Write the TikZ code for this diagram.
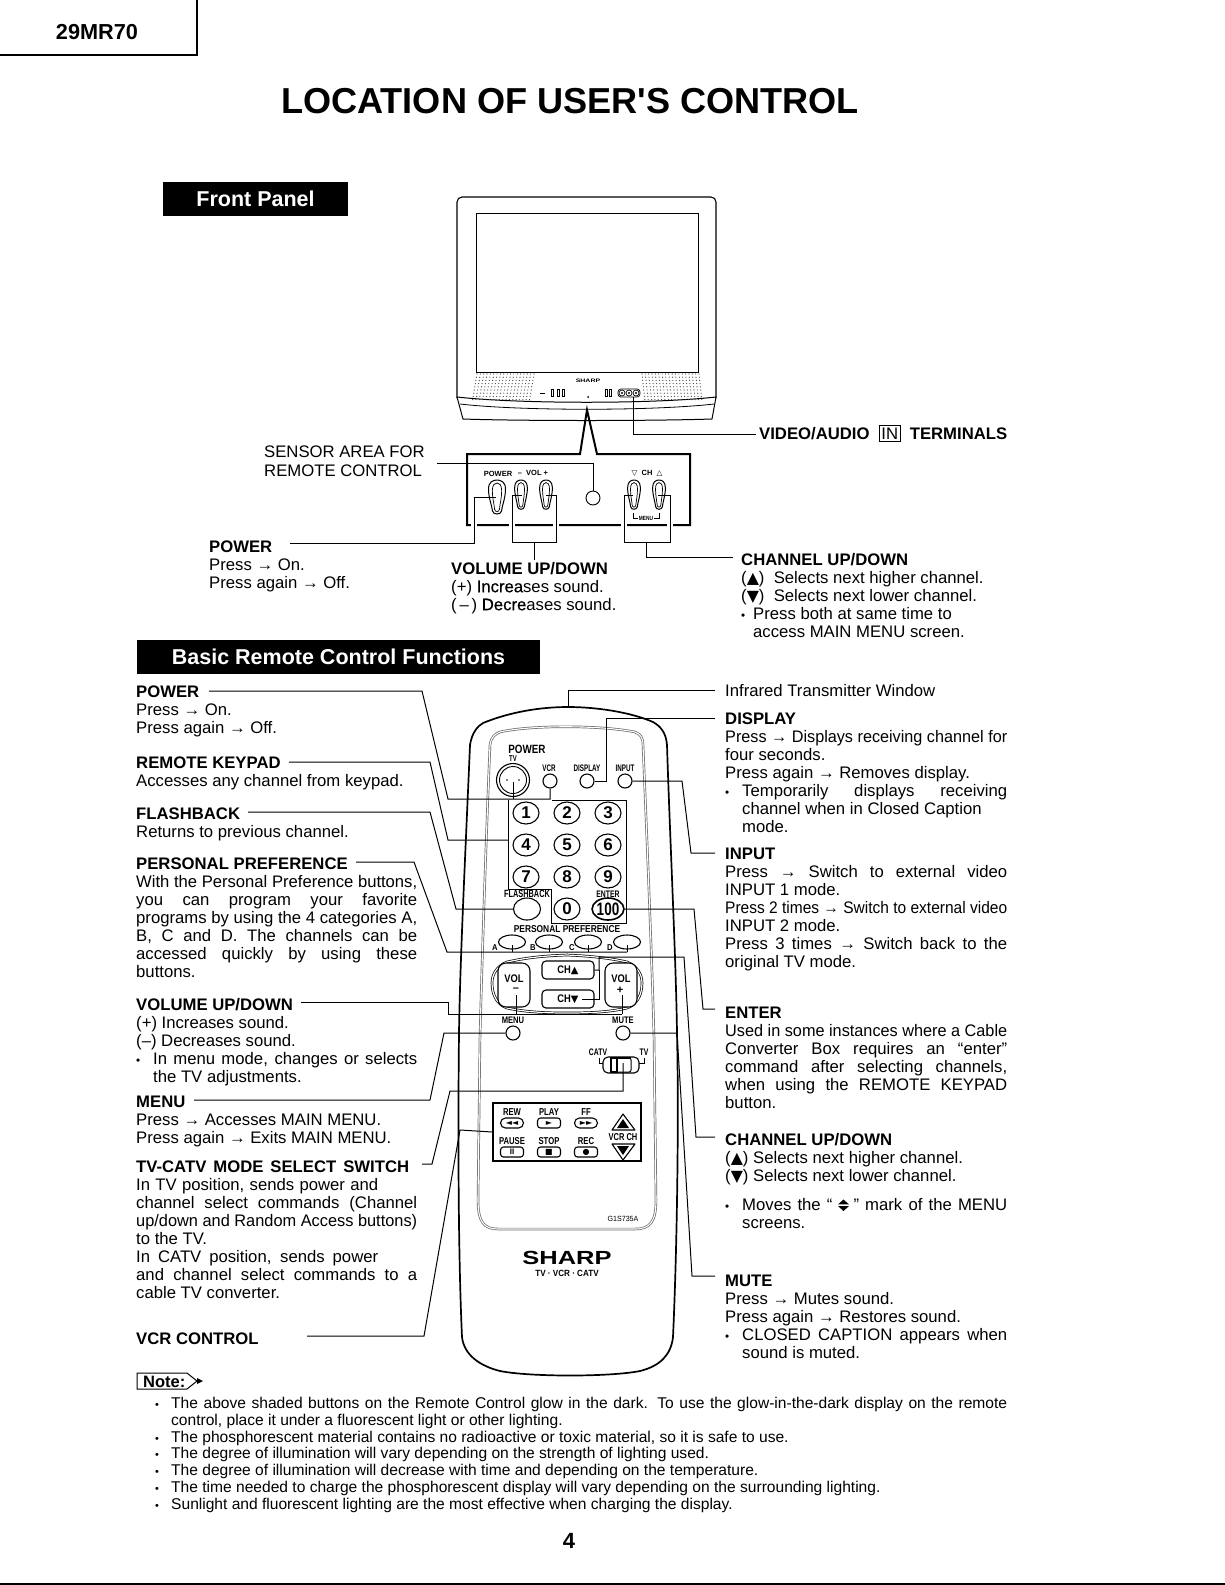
\documentclass[tikz,border=0pt]{standalone}
\usepackage{fontspec}
\usepackage{graphicx}
\usetikzlibrary{shapes.geometric,calc}
\setmainfont{Liberation Sans}
\newfontfamily\dejavu{DejaVu Sans}
\newfontfamily\fakeb[FakeBold=0.5]{Liberation Sans}
\newcommand\fs[1]{\fontsize{#1}{#1}\selectfont}
\newcommand\JJ[2]{\setbox0=\hbox{#2}\ifdim\wd0>#1\relax\resizebox{#1}{\height}{#2}\else\makebox[#1][s]{#2}\fi}
\newcommand\JL[1]{\JJ{281pt}{#1}}
\newcommand\JR[1]{\JJ{282pt}{#1}}
\newcommand\Bul{\makebox[17pt][l]{\scalebox{.7}{•}}}
\newcommand\Ind{\hspace*{17pt}}
\newcommand\Arr{→}
\newcommand\UpT{{\dejavu\scalebox{.95}{▲}}}
\newcommand\DnT{{\dejavu\scalebox{.95}{▼}}}
\newcommand\Blk[4]{\node[txt] (#1) at (#2,#3-13) {\rule{0pt}{13pt}#4};}
\newcommand\RL[6]{\node[rl,font=\bfseries\fs{#4}] (#1) at (#2,#3) {\scalebox{#5}[1]{#6}};}
\tikzset{
 txt/.style={anchor=north west,inner sep=0pt,align=left,font=\fontsize{16.7}{18}\selectfont},
 rl/.style={inner sep=0pt,anchor=center},
 leader/.style={draw=black,line width=1pt,line join=miter},
 oval/.style={draw=black,ellipse,line width=1.1pt,inner sep=0pt,fill=white},
 key/.style={oval,minimum width=26pt,minimum height=22pt,font=\bfseries\fs{17}},
 ppk/.style={oval,minimum width=27pt,minimum height=14pt},
 rnd/.style={oval,circle,minimum size=14pt},
 tape/.style={draw=black,line width=1.1pt,rounded corners=3pt,minimum width=23pt,minimum height=10pt,inner sep=0pt,font=\fs{8}},
 dropb/.pic={
  \draw[line width=1pt] (-8.5,9) .. controls (-8.5,2) and (-4,0) .. (0,0) .. controls (4,0) and (8.5,2) .. (8.5,9) .. controls (8.5,18) and (5,26) .. (4.5,31) .. controls (4,35) and (-4,35) .. (-4.5,31) .. controls (-5,26) and (-8.5,18) .. (-8.5,9) -- cycle;
  \begin{scope}[shift={(0,3)},xscale=.55,yscale=.84]
  \draw[line width=.7pt] (-8.5,9) .. controls (-8.5,2) and (-4,0) .. (0,0) .. controls (4,0) and (8.5,2) .. (8.5,9) .. controls (8.5,18) and (5,26) .. (4.5,31) .. controls (4,35) and (-4,35) .. (-4.5,31) .. controls (-5,26) and (-8.5,18) .. (-8.5,9) -- cycle;
  \end{scope}
 },
}
\begin{document}
\begin{tikzpicture}[x=1pt,y=-1pt]
\useasboundingbox (0,0) rectangle (1225,1585);
\fill[white] (0,0) rectangle (1225,1585);

% header
\coordinate (hA) at (197,0); \coordinate (hB) at (197,55); \coordinate (hC) at (0,55);
\draw[line width=1.1pt] (hA) -- (hB) -- (hC);
\node[inner sep=0pt,font=\bfseries\fs{21.7}] (model) at (97,32) {29MR70};
\node[inner sep=0pt,font=\bfseries\fs{36.1}] (title) at (570,101) {LOCATION OF USER\textquotesingle S CONTROL};
\node[fill=black,text=white,minimum width=185pt,minimum height=34pt,inner sep=0pt,font=\bfseries\fs{21.5}] (fph) at (255.5,199) {Front Panel};
\node[fill=black,text=white,minimum width=403pt,minimum height=34pt,inner sep=0pt,font=\bfseries\fs{21.5}] (brh) at (338.5,657) {Basic Remote Control Functions};

% TV
\draw[line width=1.1pt,rounded corners=5pt] (457,398) -- (457,197) -- (716,197) -- (716,398);
\draw[line width=.9pt] (476,213) rectangle (698,372);
\draw[line width=1pt] (457,397) .. controls (520,404) and (653,404) .. (716,397);
\draw[line width=.8pt] (460,404) .. controls (520,411) and (653,411) .. (714,404);
\draw[line width=1pt] (457,397) -- (463,419) .. controls (520,421) and (653,421) .. (712,419) -- (716,397);
\foreach \r in {0,...,8}{
 \foreach \c in {0,...,17}{
  \fill[black!75] ({477-\r*0.55+\c*3.35},{374+\r*3.2}) circle (.6);
  \fill[black!75] ({642+\r*0.55+\c*3.35-\r*0.2},{374+\r*3.2}) circle (.6);
 }}
\node[inner sep=0pt,font=\bfseries\fs{5}] (tvbrand) at (588,381) {\scalebox{1.4}[1]{SHARP}};
\draw[line width=.8pt] (540,393) -- (545,393);
\draw[line width=.7pt] (551,389) rectangle (553,396);
\draw[line width=.7pt] (557,389) rectangle (559,396) (562,389) rectangle (564,396) (605,389) rectangle (607,396) (609,389) rectangle (611,396);
\fill (588,397) circle (1);
\draw[line width=.7pt,rounded corners=3pt] (618,389) rectangle (640,397);
\foreach \x in {622,629,636}{\draw[line width=.7pt] (\x,393) circle (3);\fill (\x,393) circle (1.2);}
% jack leader
\coordinate (jack) at (633,397); \coordinate (vidend) at (756,434);
\draw[leader] (jack) -- (633,434) -- (vidend);
\node[anchor=base west,inner sep=0pt,font=\bfseries\fs{16.7}] (vidtxt) at (759,439) {\makebox[248pt][s]{VIDEO/AUDIO {\setlength\fboxsep{2pt}\setlength\fboxrule{.7pt}\fbox{\mdseries IN}} TERMINALS}};

% panel
\coordinate (apex) at (587,410);
\draw[line width=2pt,line join=miter] (467,525) -- (467,454) -- (580,454) -- (apex) -- (597,454) -- (690,454) -- (690,525) -- cycle;
\foreach \x in {474,512,556,624,670}{\fill[white] ({\x-3},522) rectangle ({\x+3},528);}
\RL{ppow}{498}{474}{7.5}{1}{POWER}
\RL{pvol}{533}{473}{7.5}{1}{–\ \ VOL\ +}
\RL{pch}{647}{473}{7.5}{1}{{\dejavu▽}\ \ CH\ \ {\dejavu△}}
\pic at (497,480) {dropb};
\pic[xscale=.75,yscale=.86] at (521,480) {dropb};
\pic[xscale=.75,yscale=.86] at (546,480) {dropb};
\pic[xscale=.75,yscale=.86] at (634,480) {dropb};
\pic[xscale=.75,yscale=.86] at (659,480) {dropb};
\node[oval,circle,minimum size=14pt,line width=.9pt] (sens) at (593,498) {};
\node[inner sep=1pt,fill=white,font=\bfseries\fs{6}] (pmenu) at (646,518) {\scalebox{.8}[1]{MENU}};
\coordinate (mL) at (633,513); \coordinate (mR) at (659,513);
\draw[line width=1pt] (mL) -- (633,518) -- (pmenu.west) (pmenu.east) -- (659,518) -- (mR);

\Blk{sens1}{264}{457}{SENSOR AREA FOR}
\Blk{sens2}{264}{476}{REMOTE CONTROL}
\coordinate (sensL) at (437,463);
\draw[leader] (sensL) -- (593,463) -- (sens.north);
\coordinate (fpow) at (290,543); \coordinate (fpowb) at (496,497);
\draw[leader] (fpow) -- (474,543) -- (474,497) -- (fpowb);
\coordinate (vl) at (522,495); \coordinate (vr) at (546,495); \coordinate (vs) at (534,560);
\draw[leader] (vl) -- (512,495) -- (512,542) -- (556,542) -- (556,495) -- (vr);
\draw[leader] (534,542) -- (vs);
\coordinate (cl) at (633,495); \coordinate (cr) at (658,495); \coordinate (cs) at (733,557);
\draw[leader] (cl) -- (624,495) -- (624,542) -- (670,542) -- (670,495) -- (cr);
\draw[leader] (646,542) -- (646,557) -- (cs);

\Blk{fpowt}{209}{552}{\textbf{POWER}\\Press \Arr{} On.\\Press again \Arr{} Off.}
\Blk{fvolt}{451}{574}{\textbf{VOLUME UP/DOWN}\\(+) {\fakeb Increa}ses sound.\\(\,–\,) {\fakeb Decre}ases sound.}
\Blk{fcht}{741}{565}{\textbf{CHANNEL UP/DOWN}\\(\UpT)\ \ Selects next higher channel.\\(\DnT)\ \ Selects next lower channel.\\\makebox[12pt][l]{\scalebox{.7}{•}}Press both at same time to\\\hspace*{12pt}access MAIN MENU screen.}

% remote
\draw[line width=1.7pt] (470,745) .. controls (472,732) and (478,726) .. (483,723) .. controls (510,712) and (540,707) .. (568,707) .. controls (596,707) and (630,712) .. (653,722) .. controls (660,726) and (666,732) .. (667,745) .. controls (670,840) and (676,960) .. (677,1033) .. controls (679,1120) and (677,1250) .. (673,1337) .. controls (671,1355) and (660,1366) .. (640,1371) .. controls (610,1377) and (530,1377) .. (500,1371) .. controls (480,1366) and (464,1355) .. (462,1337) .. controls (458,1250) and (458,1120) .. (459,1033) .. controls (460,960) and (466,840) .. (470,745) -- cycle;
\draw[draw=black!60,line width=.7pt,double=white,double distance=1.1pt] (490,745) .. controls (491,737) and (495,734) .. (500,732) .. controls (530,725) and (600,725) .. (635,732) .. controls (640,734) and (643,737) .. (643,745) .. controls (647,840) and (652,960) .. (654,1037) -- (656,1200) .. controls (656,1222) and (650,1229) .. (635,1229) -- (498,1229) .. controls (484,1229) and (478,1222) .. (478,1200) -- (480,1037) .. controls (482,960) and (486,840) .. (490,745) -- cycle;

\RL{rpow}{527}{749}{12}{.82}{POWER}
\RL{rtv}{513}{759}{8.5}{.7}{TV}
\node[draw,circle,line width=1.1pt,minimum size=33pt,inner sep=0pt] (tvo) at (513,780) {};
\node[draw,circle,line width=.9pt,minimum size=27pt,inner sep=0pt] (tvi) at (513,780) {};
\fill (507,780) circle (.9) (519,780) circle (.9);
\RL{rvcr}{549}{768}{9.5}{.66}{VCR}
\RL{rdisp}{587}{768}{9.5}{.66}{DISPLAY}
\RL{rinp}{625}{768}{9.5}{.66}{INPUT}
\node[rnd] (vcrb) at (550,781) {};
\node[rnd] (dispb) at (587,781) {};
\node[rnd] (inpb) at (625,781) {};
\foreach \n/\t/\x/\y in {k1/1/526/813,k2/2/567/813,k3/3/608/813,k4/4/526/845,k5/5/567/845,k6/6/608/845,k7/7/526/877,k8/8/567/877,k9/9/608/877,k0/0/567/909}{
 \node[key] (\n) at (\x,\y) {\t};
}
\node[key,line width=1.6pt,font=\bfseries\fs{18}] (k100) at (608,909) {\scalebox{.75}[1]{100}};
\node[oval,minimum width=27pt,minimum height=22pt] (fb) at (527,909) {};
\RL{lfb}{527}{894}{10.5}{.7}{FLASHBACK}
\RL{lent}{608}{894}{9.5}{.72}{ENTER}
\RL{lpp}{567}{929}{10}{.84}{PERSONAL PREFERENCE}
\foreach \n/\x in {ppa/512,ppb/549,ppc/588,ppd/627}{\node[ppk] (\n) at (\x,942) {};}
\foreach \n/\t/\x in {la/A/495,lb/B/533,lc/C/572,ld/D/610}{\RL{\n}{\x}{948}{8.5}{.9}{\t}}

% keypad bracket and leaders
\coordinate (lpw) at (209,691);
\draw[leader] (lpw) -- (422,691) -- (448,799) -- (550,799) -- (vcrb.south);
\draw[leader] (513,799) -- (513,782);
\coordinate (lkp) at (289,762); \coordinate (kpt) at (552,800);
\draw[leader] (lkp) -- (430,762) -- (448,840) -- (508,840);
\draw[leader] (508,800) -- (508,889) -- (551,889) -- (551,923) -- (626,923) -- (626,800) -- (kpt);
\coordinate (lfbk) at (248,812);
\draw[leader] (lfbk) -- (430,812) -- (456,909) -- (fb.west);
\coordinate (lppf) at (356,862);
\draw[leader] (lppf) -- (414,862) -- (447,952) -- (627,952);
\foreach \x in {512,549,588,627}{\draw[leader] (\x,952) -- (\x,945);}

% VOL group
\draw[line width=.7pt,double=white,double distance=1.2pt,draw=black] (567,955) .. controls (540,956) and (525,958) .. (507,962) .. controls (497,966) and (492,974) .. (492,983) .. controls (492,996) and (498,1005) .. (507,1008) .. controls (525,1012) and (545,1013) .. (567,1013) .. controls (590,1013) and (610,1012) .. (627,1008) .. controls (636,1005) and (642,996) .. (642,983) .. controls (642,974) and (637,966) .. (627,962) .. controls (610,958) and (590,956) .. (567,955) -- cycle;
\node[draw,fill=white,line width=1.1pt,rounded corners=8pt,minimum width=32pt,minimum height=44pt,inner sep=0pt] (volm) at (514,985) {};
\node[draw,fill=white,line width=1.1pt,rounded corners=8pt,minimum width=32pt,minimum height=44pt,inner sep=0pt] (volp) at (621,985) {};
\RL{lvm}{514}{979}{11}{.85}{VOL}
\RL{lvp}{621}{979}{11}{.85}{VOL}
\RL{lvm2}{516}{990}{11}{1}{–}
\RL{lvp2}{620}{990}{11}{1}{+}
\node[draw,fill=white,line width=1.1pt,rounded corners=4pt,minimum width=52pt,minimum height=18pt,inner sep=0pt,font=\bfseries\fs{11}] (chu) at (568,970) {\scalebox{.85}[1]{CH}{\dejavu\scalebox{.9}{▲}}};
\node[draw,fill=white,line width=1.1pt,rounded corners=4pt,minimum width=52pt,minimum height=18pt,inner sep=0pt,font=\bfseries\fs{11}] (chd) at (568,999) {\scalebox{.85}[1]{CH}{\dejavu\scalebox{.9}{▼}}};
\coordinate (chds) at (582,999);
\coordinate (lvol) at (301,1002);
\draw[leader] (lvol) -- (448,1002) -- (448,1014) -- (622,1014);
\draw[leader] (516,1014) -- (516,995);
\draw[leader] (622,1014) -- (622,995);
\RL{lmen}{513}{1020}{9.5}{.8}{MENU}
\RL{lmut}{623}{1020}{9.5}{.8}{MUTE}
\node[rnd] (menb) at (513,1033) {};
\node[rnd] (mutb) at (623,1033) {};
\coordinate (lmn) at (194,1100);
\draw[leader] (lmn) -- (430,1100) -- (444,1033) -- (menb.west);

% switch
\RL{lcatv}{598}{1052}{9.5}{.72}{CATV}
\RL{ltv}{644}{1052}{9.5}{.72}{TV}
\draw[line width=1pt] (599,1058) -- (599,1063) -- (603,1063) (644,1058) -- (644,1063) -- (639,1063);
\node[draw,line width=1.1pt,rounded corners=5pt,minimum width=36pt,minimum height=16pt,inner sep=0pt] (swo) at (621,1065) {};
\node[draw,line width=1pt,rounded corners=2pt,minimum width=20pt,minimum height=14pt,inner sep=0pt] (swi) at (621,1065) {};
\draw[line width=1.6pt] (611,1058) rectangle (617,1072);
\draw[line width=1.8pt] (611,1058) -- (631,1058);
\coordinate (ltv1) at (422,1164); \coordinate (swb) at (623,1063);
\draw[leader] (ltv1) -- (432,1164) -- (450,1091) -- (623,1091) -- (swb);
% VCR
\node[draw,line width=1.1pt,minimum width=148pt,minimum height=58pt,inner sep=0pt] (vcrbox) at (567,1132) {};
\RL{lrew}{512}{1112}{10}{.77}{REW}
\RL{lply}{549}{1112}{10}{.77}{PLAY}
\RL{lff}{586}{1112}{10}{.77}{FF}
\RL{lpse}{512}{1141}{10}{.77}{PAUSE}
\RL{lstp}{549}{1141}{10}{.77}{STOP}
\RL{lrec}{586}{1141}{10}{.77}{REC}
\node[tape,rounded corners=5pt] (brew) at (512,1123) {\dejavu◄◄};
\node[tape] (bply) at (549,1123) {\dejavu►};
\node[tape,rounded corners=5pt] (bff) at (586,1123) {\dejavu►►};
\node[tape] (bpse) at (512,1152) {\textbf{II}};
\node[tape] (bstp) at (549,1152) {\dejavu■};
\node[tape] (brec) at (586,1152) {\dejavu●};
\draw[line width=1.1pt,line join=round] (623,1114) -- (612,1130) -- (635,1130) -- cycle;
\fill (623,1119) -- (617,1128) -- (629,1128) -- cycle;
\draw[line width=1.1pt,line join=round] (623,1160) -- (612,1144) -- (635,1144) -- cycle;
\fill (623,1155) -- (617,1146) -- (629,1146) -- cycle;
\RL{lvch}{623}{1137}{10}{.75}{VCR CH}
\coordinate (lvr) at (307,1336);
\draw[leader] (lvr) -- (424,1336) -- (460,1130) -- (vcrbox.west);
\RL{lg}{623}{1219}{7.5}{.95}{\mdseries G1S735A}
\node[inner sep=0pt,font=\bfseries\fs{19}] (brand) at (567,1258) {\scalebox{1.34}[1]{SHARP}};
\RL{ltvv}{567}{1273}{9}{.9}{TV · VCR · CATV}

% right leaders
\coordinate (rinf) at (715,690); \coordinate (rmt) at (568,707);
\draw[leader] (rinf) -- (568,690) -- (rmt);
\coordinate (rdis) at (715,718);
\draw[leader] (rdis) -- (606,718) -- (606,781) -- (dispb.east);
\coordinate (rinp2) at (715,853);
\draw[leader] (inpb.east) -- (682,781) -- (691,853) -- (rinp2);
\coordinate (rent) at (715,1009);
\draw[leader] (k100.east) -- (694,909) -- (703,1009) -- (rent);
\coordinate (rch) at (715,1137);
\draw[leader] (chu.east) -- (599,970) -- (599,957) -- (684,957) -- (696,1137) -- (rch);
\draw[leader] (chds) -- (599,999) -- (599,970);
\coordinate (rmu) at (715,1276);
\draw[leader] (mutb.east) -- (677,1033) -- (692,1276) -- (rmu);

% left text
\Blk{tpow}{136}{697}{\textbf{POWER}\\Press \Arr{} On.\\Press again \Arr{} Off.}
\Blk{tkey}{136}{768}{\textbf{REMOTE KEYPAD}\\Accesses any channel from keypad.}
\Blk{tfla}{136}{819}{\textbf{FLASHBACK}\\Returns to previous channel.}
\Blk{tper}{136}{869}{\textbf{PERSONAL PREFERENCE}\\\JL{With the Personal Preference buttons,}\\\JL{you can program your favorite}\\\JL{programs by using the 4 categories A,}\\\JL{B, C and D. The channels can be}\\\JL{accessed quickly by using these}\\buttons.}
\Blk{tvol}{136}{1010}{\textbf{VOLUME UP/DOWN}\\(+) Increases sound.\\(–) Decreases sound.\\\JL{\Bul In menu mode, changes or selects}\\\Ind the TV adjustments.}
\Blk{tmen}{136}{1107}{\textbf{MENU}\\Press \Arr{} Accesses MAIN MENU.\\Press again \Arr{} Exits MAIN MENU.}
\Blk{tcat}{136}{1172}{\JJ{273pt}{\textbf{TV-CATV MODE SELECT SWITCH}}\\\JJ{242pt}{In TV position, sends power and}\\\JL{channel select commands (Channel}\\\JL{up/down and Random Access buttons)}\\to the TV.\\\JJ{242pt}{In CATV position, sends power}\\\JL{and channel select commands to a}\\cable TV converter.}
\Blk{tvcr}{136}{1344}{\textbf{VCR CONTROL}}

% right text
\Blk{tinf}{725}{696}{Infrared Transmitter Window}
\Blk{tdis}{725}{724}{\textbf{DISPLAY}\\\JR{Press \Arr{} Displays receiving channel for}\\four seconds.\\Press again \Arr{} Removes display.\\\JR{\Bul Temporarily displays receiving}\\\Ind channel when in Closed Caption\\\Ind mode.}
\Blk{tinp}{725}{859}{\textbf{INPUT}\\\JR{Press \Arr{} Switch to external video}\\INPUT 1 mode.\\\JR{Press 2 times \Arr{} Switch to external video}\\INPUT 2 mode.\\\JR{Press 3 times \Arr{} Switch back to the}\\original TV mode.}
\Blk{tent}{725}{1018}{\textbf{ENTER}\\\JR{Used in some instances where a Cable}\\\JR{Converter Box requires an “enter”}\\\JR{command after selecting channels,}\\\JR{when using the REMOTE KEYPAD}\\button.}
\Blk{tchn}{725}{1145}{\textbf{CHANNEL UP/DOWN}\\(\UpT) Selects next higher channel.\\(\DnT) Selects next lower channel.}
\Blk{tchm}{725}{1210}{\JR{\Bul Moves the “\hspace*{21pt}” mark of the MENU}\\\Ind screens.}
\fill (843.5,1199.5) -- (838,1204.4) -- (849,1204.4) -- cycle;
\fill (843.5,1211) -- (838,1206) -- (849,1206) -- cycle;
\Blk{tmut}{725}{1286}{\textbf{MUTE}\\Press \Arr{} Mutes sound.\\Press again \Arr{} Restores sound.\\\JR{\Bul CLOSED CAPTION appears when}\\\Ind sound is muted.}

% note
\coordinate (nA) at (187,1373); \coordinate (nB) at (187,1389); \coordinate (nC) at (197,1381);
\draw[line width=1pt] (nA) -- (137,1373) -- (137,1389) -- (nB) -- (nC) -- cycle;
\fill (197,1378) -- (203,1381) -- (197,1384) -- cycle;
\node[anchor=base west,inner sep=0pt,font=\bfseries\fs{16.5}] (notet) at (143,1387) {Note:};
\node[anchor=north west,inner sep=0pt,align=left,font=\fontsize{15.58}{16.9}\selectfont] (notes) at (155,1395) {\rule{0pt}{13pt}\makebox[16pt][l]{\scalebox{.7}{•}}\JJ{836pt}{The above shaded buttons on the Remote Control glow in the dark. To use the glow-in-the-dark display on the remote}\\\hspace*{16pt}control, place it under a fluorescent light or other lighting.\\\makebox[16pt][l]{\scalebox{.7}{•}}The phosphorescent material contains no radioactive or toxic material, so it is safe to use.\\\makebox[16pt][l]{\scalebox{.7}{•}}The degree of illumination will vary depending on the strength of lighting used.\\\makebox[16pt][l]{\scalebox{.7}{•}}The degree of illumination will decrease with time and depending on the temperature.\\\makebox[16pt][l]{\scalebox{.7}{•}}The time needed to charge the phosphorescent display will vary depending on the surrounding lighting.\\\makebox[16pt][l]{\scalebox{.7}{•}}Sunlight and fluorescent lighting are the most effective when charging the display.};
\node[inner sep=0pt,font=\bfseries\fs{22}] (pageno) at (569,1541) {4};
\coordinate (fl) at (0,1584); \coordinate (fr) at (1225,1584);
\draw[line width=1.2pt] (fl) -- (fr);
\end{tikzpicture}
\end{document}
